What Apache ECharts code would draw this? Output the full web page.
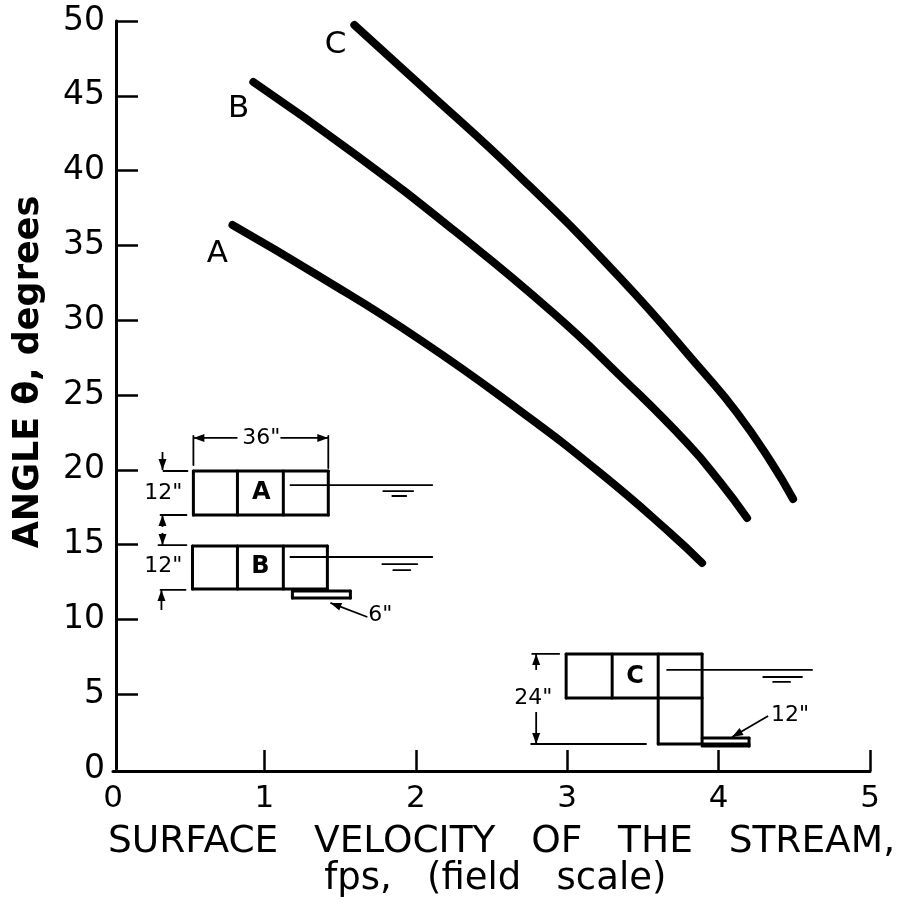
<!DOCTYPE html>
<html>
<head>
<meta charset="utf-8">
<style>html,body{margin:0;padding:0;background:#fff}#c{width:905px;height:903px}</style>
<script src="https://cdn.jsdelivr.net/npm/echarts@6/dist/echarts.min.js"></script>
</head>
<body>
<div id="c"></div>
<script>
const xTicks = [0, 1, 2, 3, 4, 5];
const yTicks = [0, 5, 10, 15, 20, 25, 30, 35, 40, 45, 50];
const xTitle = 'SURFACE   VELOCITY   OF   THE   STREAM,';
const xSubTitle = 'fps,   (field   scale)';

const curveA = [[0.789,36.36],[1.370,32.89],[2.030,28.68],[2.690,23.93],[3.218,19.79],[3.680,15.78],[3.891,13.77]];
const curveB = [[0.927,45.92],[1.587,41.18],[2.248,36.03],[2.908,30.48],[3.350,26.27],[3.792,21.79],[4.010,19.18],[4.188,16.78]];
const curveC = [[1.594,49.73],[2.030,45.72],[2.690,39.57],[3.350,32.82],[3.898,26.54],[4.122,23.80],[4.340,20.62],[4.492,18.05]];

// Curve labels and inset dimension labels: [text, x, y]
const curveLabels = [['A',0.69,34.4],['B',0.83,44.1],['C',1.47,48.4]];
const insetLetters = [['A',0.980,18.45],['B',0.974,13.50],['C',3.449,6.15]];
const dimLabels = [['36"',0.980,22.13],['12"',0.333,18.45],['12"',0.333,13.57],['6"',1.766,10.29],['24"',2.776,4.75],['12"',4.472,3.61]];

// Heavy inset outlines: [x1,y1,x2,y2]
const insetWalls = [
  [0.531,19.92,1.422,19.92],[0.531,16.98,1.422,16.98],[0.531,19.92,0.531,16.98],[0.822,19.92,0.822,16.98],[1.125,19.92,1.125,16.98],[1.422,19.92,1.422,16.98],
  [0.525,14.91,1.416,14.91],[0.525,12.03,1.416,12.03],[0.525,14.91,0.525,12.03],[0.822,14.91,0.822,12.03],[1.125,14.91,1.125,12.03],[1.416,14.91,1.416,12.03],
  [1.185,11.90,1.568,11.90],[1.185,11.43,1.568,11.43],[1.185,11.90,1.185,11.43],[1.568,11.90,1.568,11.43],
  [2.993,7.69,3.891,7.69],[2.993,4.75,3.891,4.75],[2.993,7.69,2.993,4.75],[3.297,7.69,3.297,4.75],[3.601,7.69,3.601,1.67],[3.891,7.69,3.891,1.67],[3.601,1.67,4.201,1.67],
  [3.891,2.07,4.201,2.07],[4.201,2.07,4.201,1.54],[3.891,1.54,4.201,1.54]
];
// Thin dimension, extension and water lines: [x1,y1,x2,y2]
const insetThin = [
  [0.531,22.26,0.531,20.32],[1.422,22.26,1.422,20.12],
  [0.333,19.92,0.492,19.92],[0.314,16.98,0.485,16.98],[0.300,14.97,0.485,14.97],[0.314,11.97,0.479,11.97],
  [1.172,18.98,2.109,18.98],[1.785,18.58,1.983,18.58],[1.845,18.25,1.937,18.25],
  [1.172,14.17,2.109,14.17],[1.779,13.70,2.010,13.70],[1.851,13.30,1.964,13.30],
  [2.769,7.69,2.947,7.69],[2.762,1.67,3.521,1.67],
  [3.660,6.62,4.617,6.62],[4.295,6.15,4.551,6.15],[4.360,5.82,4.472,5.82]
];
// Dimension arrows, the head sits at the second point: [x1,y1,x2,y2]
const insetArrows = [
  [0.822,22.13,0.531,22.13],[1.106,22.13,1.422,22.13],
  [0.327,21.19,0.327,19.99],[0.327,16.18,0.327,16.98],[0.327,15.78,0.327,14.97],[0.320,10.63,0.320,11.97],
  [1.680,10.16,1.436,11.10],
  [2.795,6.62,2.795,7.69],[2.795,3.81,2.795,1.67],[4.327,3.54,4.089,2.14]
];

function segmentSeries(name, rows, width) {
  return {
    name, type: 'custom', data: rows, silent: true, z: 3,
    renderItem(p, api) {
      const a = api.coord([api.value(0), api.value(1)]);
      const b = api.coord([api.value(2), api.value(3)]);
      return { type: 'line', shape: { x1: a[0], y1: a[1], x2: b[0], y2: b[1] },
        style: { stroke: '#000', lineWidth: width, lineCap: 'round' } };
    }
  };
}
function arrowSeries(name, rows) {
  return {
    name, type: 'custom', data: rows, silent: true, z: 3,
    renderItem(p, api) {
      const a = api.coord([api.value(0), api.value(1)]);
      const b = api.coord([api.value(2), api.value(3)]);
      const dx = b[0] - a[0], dy = b[1] - a[1], L = Math.hypot(dx, dy) || 1;
      const ux = dx / L, uy = dy / L, h = 11, w = 4;
      const bx = b[0] - ux * h, by = b[1] - uy * h;
      return { type: 'group', children: [
        { type: 'line', shape: { x1: a[0], y1: a[1], x2: b[0], y2: b[1] }, style: { stroke: '#000', lineWidth: 1.8 } },
        { type: 'polygon', shape: { points: [[b[0], b[1]], [bx - uy * w, by + ux * w], [bx + uy * w, by - ux * w]] }, style: { fill: '#000' } }
      ] };
    }
  };
}
function textSeries(name, rows, fontSize, fontWeight) {
  return {
    name, type: 'custom', data: rows.map(r => [r[1], r[2]]), silent: true, z: 4,
    renderItem(p, api) {
      const c = api.coord([api.value(0), api.value(1)]);
      return { type: 'text', x: c[0], y: c[1], style: {
        text: rows[p.dataIndex][0], fill: '#000', fontFamily: 'DejaVu Sans', fontSize, fontWeight,
        align: 'center', verticalAlign: 'middle' } };
    }
  };
}
function curve(name, points) {
  return { name, type: 'line', data: points, smooth: 0.5, showSymbol: false, silent: true, z: 2,
    lineStyle: { color: '#000', width: 8, cap: 'round', join: 'round' } };
}

const chart = echarts.init(document.getElementById('c'));
chart.setOption({
  animation: false,
  backgroundColor: '#fff',
  grid: { left: 113, top: 21, width: 757, height: 748, containLabel: false },
  xAxis: {
    type: 'value', min: xTicks[0], max: xTicks[xTicks.length - 1], interval: 1, offset: 2,
    splitLine: { show: false },
    axisLine: { onZero: false, lineStyle: { color: '#000', width: 3 } },
    axisTick: { inside: true, length: 21, customValues: xTicks.slice(1), lineStyle: { color: '#000', width: 2.5 } },
    axisLabel: { color: '#000', fontFamily: 'DejaVu Sans', fontSize: 31, margin: 12, showMinLabel: true, showMaxLabel: true },
    name: xTitle, nameLocation: 'middle', nameGap: 52,
    nameTextStyle: { color: '#000', fontFamily: 'DejaVu Sans', fontSize: 37.5, padding: [0, 0, 0, 20] }
  },
  yAxis: {
    type: 'value', min: yTicks[0], max: yTicks[yTicks.length - 1], interval: 5, offset: -3,
    splitLine: { show: false },
    axisLine: { onZero: false, lineStyle: { color: '#000', width: 3 } },
    axisTick: { inside: true, length: 22, customValues: yTicks.slice(1), lineStyle: { color: '#000', width: 2.5 } },
    axisLabel: { color: '#000', fontFamily: 'DejaVu Sans', fontSize: 33, margin: 11, padding: [5, 0, 0, 0], showMinLabel: true, showMaxLabel: true },
    name: 'ANGLE θ, degrees', nameLocation: 'middle', nameGap: 70,
    nameTextStyle: { color: '#000', fontFamily: 'DejaVu Sans', fontWeight: 'bold', fontSize: 35, padding: [0, 0, 0, 46] }
  },
  series: [
    curve('A', curveA), curve('B', curveB), curve('C', curveC),
    segmentSeries('insetWalls', insetWalls, 3),
    segmentSeries('insetThin', insetThin, 1.8),
    arrowSeries('insetArrows', insetArrows),
    textSeries('curveLabels', curveLabels, 31, 'normal'),
    textSeries('insetLetters', insetLetters, 24, 'bold'),
    textSeries('dimLabels', dimLabels, 22, 'normal'),
    textSeries('xSubTitle', [[xSubTitle, 2.525, -7.4]], 37, 'normal')
  ]
});
</script>
</body>
</html>
